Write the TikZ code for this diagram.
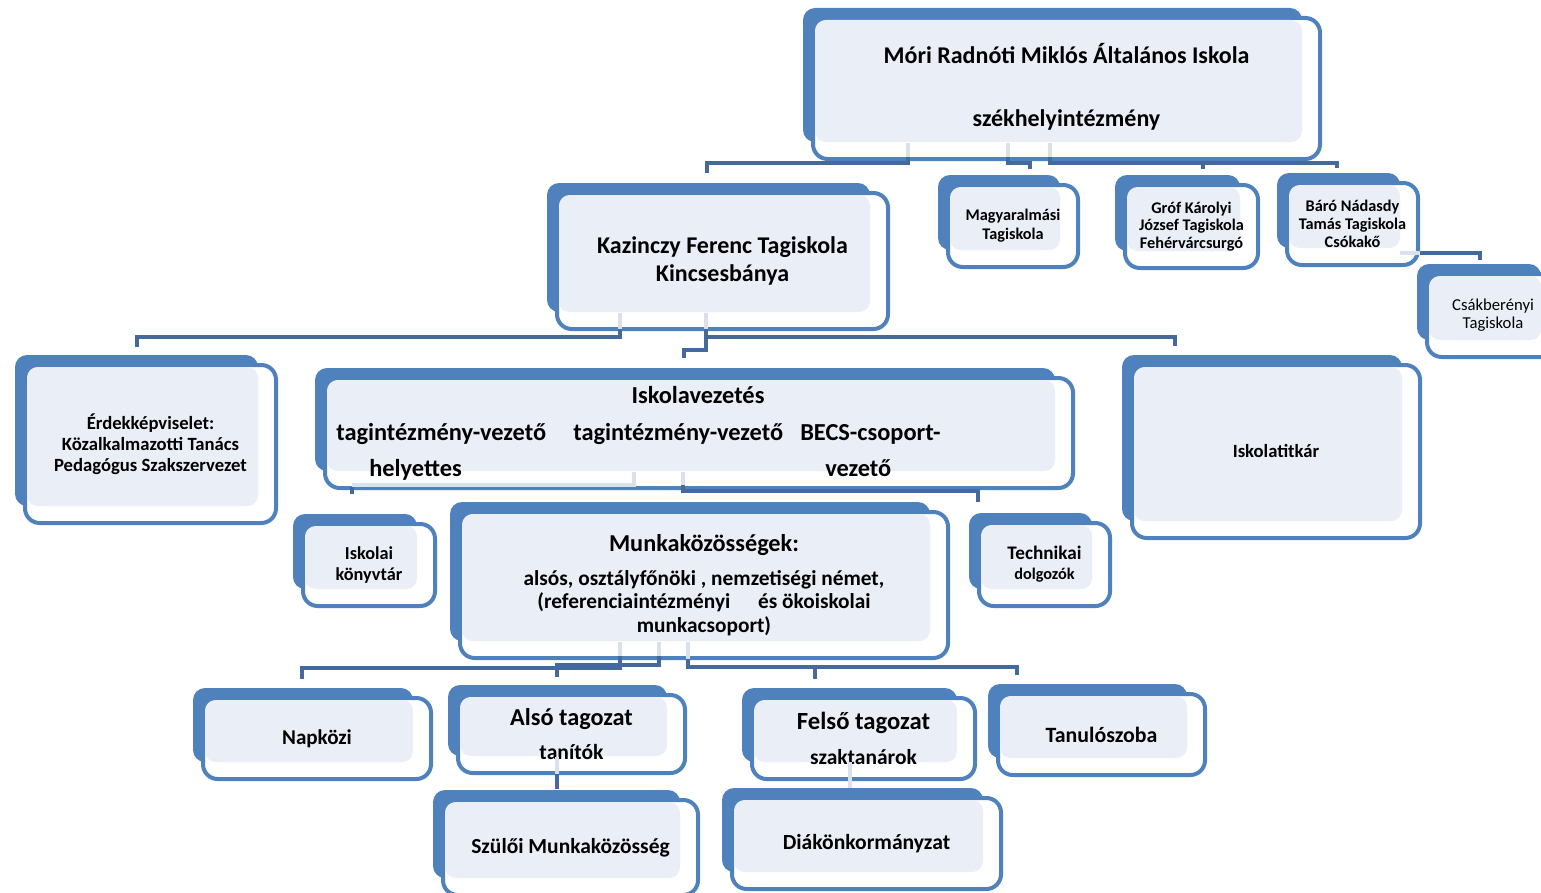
\documentclass[tikz,border=0pt]{standalone}
\usepackage{fontspec}
\setmainfont{Carlito}
\definecolor{boxblue}{HTML}{4F81BD}
\definecolor{connblue}{HTML}{44699D}
\definecolor{lightfill}{HTML}{EAEFF7}
\definecolor{ghost}{HTML}{D9E1EC}
\tikzset{
  txt/.style={align=center, inner sep=0pt, text=black},
  conn/.style={connblue, line width=3.6pt, line cap=butt, line join=miter},
  ghostline/.style={ghost, line width=3.6pt}
}
\newcommand\fs[2]{\bfseries\fontsize{#1}{#2}\selectfont}
\newcommand\orgbox[7][]{%
  \fill[boxblue, rounded corners=9pt] (#3,#4) rectangle (#5,#6);
  \draw[boxblue, line width=3pt, fill=white, rounded corners=11pt] ({#3+10},{#4+10}) rectangle ({#5+18},{#6+17});
  \fill[lightfill, rounded corners=8pt] ({#3+12},{#4+12}) rectangle (#5,#6);
  \node[txt,#1] (#2) at ({(#3+#5+28)/2},{(#4+#6+27)/2}) {#7};
}
\begin{document}
\begin{tikzpicture}[x=0.75pt,y=-0.75pt]
\useasboundingbox (0,0) rectangle (1541,892);
% boxes
\orgbox[font=\fs{18}{47}, yshift=1.5]{top}{803}{8}{1302}{142}{Móri Radnóti Miklós Általános Iskola\\székhelyintézmény}
\orgbox[font=\fs{18}{20.5}]{kaz}{547}{183}{870}{312}{Kazinczy Ferenc Tagiskola\\Kincsesbánya}
\orgbox[font=\fs{12.2}{14}]{mag}{938}{175}{1060}{250}{Magyaralmási\\Tagiskola}
\orgbox[font=\fs{12.2}{13.3}]{grof}{1115}{175}{1240}{251}{Gróf Károlyi\\József Tagiskola\\Fehérvárcsurgó}
\orgbox[font=\fs{12.2}{13.3}]{baro}{1277}{173}{1400}{248}{Báró Nádasdy\\Tamás Tagiskola\\Csókakő}
\orgbox[font=\mdseries\fontsize{12.5}{13.5}\selectfont]{csak}{1417}{264}{1541}{340}{Csákberényi\\Tagiskola}
\orgbox[font=\fs{14}{15.8}]{erdek}{15}{355}{258}{506}{Érdekképviselet:\\Közalkalmazotti Tanács\\Pedagógus Szakszervezet}
\orgbox{vez}{315}{368}{1055}{471}{}
\orgbox[font=\fs{14}{14}]{titkar}{1122}{355}{1402}{521}{Iskolatitkár}
\orgbox[font=\fs{13.7}{15.8}]{konyv}{293}{514}{417}{589}{Iskolai\\könyvtár}
\orgbox[font=\fs{16}{17.5}]{munka}{450}{502}{930}{641}{\fs{18.2}{20}Munkaközösségek:\\[8pt]alsós, osztályfőnöki , nemzetiségi német,\\(referenciaintézményi\hspace{1.3em}és ökoiskolai\\munkacsoport)}
\orgbox[font=\fs{14.4}{15}]{tech}{969}{513}{1092}{589}{Technikai\\\fs{12.2}{15}dolgozók}
\orgbox[font=\fs{15.8}{17}]{napk}{193}{688}{413}{762}{Napközi}
\orgbox[font=\fs{18.2}{25.5}]{also}{448}{685}{667}{756}{Alsó tagozat\\\fs{16.2}{25.5}tanítók}
\orgbox[font=\fs{18.5}{26}]{felso}{742}{688}{957}{762}{Felső tagozat\\\fs{16.1}{26}szaktanárok}
\orgbox[font=\fs{16.4}{17}]{tanulo}{988}{684}{1187}{758}{Tanulószoba}
\orgbox[font=\fs{16.1}{17}]{szuloi}{433}{790}{680}{878}{Szülői Munkaközösség}
\orgbox[font=\fs{16.2}{17}]{diak}{722}{788}{983}{872}{Diákönkormányzat}
% Iskolavezetes texts
\tikzset{veztxt/.style={txt, font=\fs{18.3}{20}}}
\node[veztxt, anchor=mid] (vezT) at (698,400) {Iskolavezetés};
\node[veztxt, anchor=mid west] (vezA) at (336,437) {tagintézmény-vezető};
\node[veztxt, anchor=mid west] (vezB) at (573,437) {tagintézmény-vezető};
\node[veztxt, anchor=mid west] (vezC) at (800,437) {BECS-csoport-};
\node[veztxt, anchor=mid west] (vezD) at (369,473) {helyettes};
\node[veztxt, anchor=mid west] (vezE) at (825,473) {vezető};
% connector points
\coordinate (t1) at (908,143); \coordinate (t2) at (1008,143); \coordinate (t3) at (1050,143);
\coordinate (k1) at (620,313); \coordinate (k2) at (706,313);
\coordinate (v1) at (634,472); \coordinate (v2) at (683,472);
\coordinate (m1) at (620,642); \coordinate (m2) at (659,642); \coordinate (m3) at (688,642);
% top connectors
\draw[ghostline] (t1) -- (908,157);
\draw[conn] (908,157) |- (707,163) -- (707,173);
\draw[ghostline] (t2) -- (1008,157);
\draw[conn] (1008,157) |- (1030,163) -- (1030,169);
\draw[ghostline] (t3) -- (1050,157);
\draw[conn] (1050,157) |- (1337,163) -- (1337,168);
\draw[conn] (1203,163) -- (1203,169);
\draw[ghostline] (1400,253) -- (1420,253);
\draw[conn] (1420,253) -| (1480,260);
% Kazinczy connectors
\draw[ghostline] (k1) -- (620,329);
\draw[conn] (620,329) |- (137,337) -- (137,347);
\draw[ghostline] (k2) -- (706,329);
\draw[conn] (706,329) -- (706,350) -| (684,358);
\draw[conn] (706,337) -| (1175,346);
% Iskolavezetes connectors
\draw[ghostline] (v1) |- (352,485);
\draw[conn] (352,487) -- (352,494);
\draw[ghostline] (v2) -- (683,485);
\draw[conn] (683,485) |- (978,491) -- (978,502);
% Munkakozossegek connectors
\draw[ghostline] (m1) -- (620,656);
\draw[conn] (620,656) |- (302,668) -- (302,679);
\draw[ghostline] (m2) -- (659,656);
\draw[conn] (659,656) |- (557,665) -- (557,677);
\draw[ghostline] (m3) -- (688,659);
\draw[conn] (688,659) |- (1017,667) -- (1017,675);
\draw[conn] (815,667) -- (815,679);
% lower
\draw[ghostline] (557,757) -- (557,774);
\draw[conn] (557,774) -- (557,789);
\draw[ghostline] (850,762) -- (850,788);
\end{tikzpicture}
\end{document}
